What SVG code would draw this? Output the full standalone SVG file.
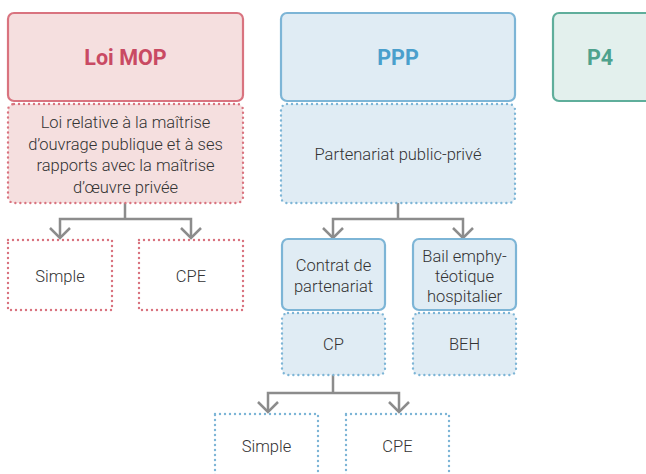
<svg xmlns="http://www.w3.org/2000/svg" width="646" height="474" viewBox="0 0 646 474">
<style>
text{font-family:Roboto,"Liberation Sans",sans-serif;font-weight:300;fill:#333;font-size:16.5px;text-anchor:middle}
.t{font-weight:bold;font-size:21.5px}
.pinkS{fill:#f5dfdf;stroke:#d9737f;stroke-width:2.2}
.pinkD{fill:#f5dfdf;stroke:#d9737f;stroke-width:2.4;stroke-dasharray:0 5;stroke-linecap:round}
.pinkO{fill:none;stroke:#d9737f;stroke-width:2.4;stroke-dasharray:0 5;stroke-linecap:round}
.blueS{fill:#e0ecf4;stroke:#7db5d6;stroke-width:2.2}
.blueD{fill:#e0ecf4;stroke:#7db5d6;stroke-width:2.4;stroke-dasharray:0 5;stroke-linecap:round}
.blueO{fill:none;stroke:#7db5d6;stroke-width:2.4;stroke-dasharray:0 5;stroke-linecap:round}
.greenS{fill:#e3f0ed;stroke:#5fae9b;stroke-width:2.2}
.c{fill:none;stroke:#8c8c8c;stroke-width:2.5}
</style>
<g id="connectors">
<path class="c" d="M125 203V219M60 238V219H191V238"/>
<path class="c" d="M50 228L60 238L70 228M181 228L191 238L201 228"/>
<path class="c" d="M398 203V219M333 238V219H463V238"/>
<path class="c" d="M323 228L333 238L343 228M453 228L463 238L473 228"/>
<path class="c" d="M333 375V393M268 412V393H399V412"/>
<path class="c" d="M258 402L268 412L278 402M389 402L399 412L409 402"/>
</g>
<g id="loimop">
<rect class="pinkS" x="8" y="13" width="235" height="88" rx="6"/>
<text class="t" x="125.5" y="65" style="fill:#c94a63">Loi MOP</text>
</g>
<g id="loimop-desc">
<rect class="pinkD" x="8" y="104" width="235" height="99" rx="6"/>
<text x="125.5" y="128">Loi relative à la maîtrise</text>
<text x="125.5" y="149.5">d’ouvrage publique et à ses</text>
<text x="125.5" y="171">rapports avec la maîtrise</text>
<text x="125.5" y="192.5">d’œuvre privée</text>
</g>
<g id="mop-simple">
<rect class="pinkO" x="8" y="240" width="104" height="70"/>
<text x="60" y="282">Simple</text>
</g>
<g id="mop-cpe">
<rect class="pinkO" x="139" y="240" width="104" height="70"/>
<text x="191" y="282">CPE</text>
</g>
<g id="ppp">
<rect class="blueS" x="281" y="13" width="234" height="88" rx="6"/>
<text class="t" x="398" y="65" style="fill:#4a9fcc">PPP</text>
</g>
<g id="ppp-desc">
<rect class="blueD" x="281" y="104" width="234" height="99" rx="6"/>
<text x="398" y="160">Partenariat public-privé</text>
</g>
<g id="p4">
<rect class="greenS" x="553" y="13" width="110" height="88" rx="6"/>
<text class="t" x="600" y="65" style="fill:#4fa28d">P4</text>
</g>
<g id="contrat">
<rect class="blueS" x="282" y="239" width="103" height="71" rx="6"/>
<text x="333.5" y="271">Contrat de</text>
<text x="333.5" y="292">partenariat</text>
</g>
<g id="cp">
<rect class="blueD" x="282" y="313" width="103" height="62" rx="6"/>
<text x="333.5" y="350">CP</text>
</g>
<g id="bail">
<rect class="blueS" x="413" y="239" width="103" height="71" rx="6"/>
<text x="464.5" y="262">Bail emphy-</text>
<text x="464.5" y="282">téotique</text>
<text x="464.5" y="302">hospitalier</text>
</g>
<g id="beh">
<rect class="blueD" x="413" y="313" width="103" height="62" rx="6"/>
<text x="464.5" y="350">BEH</text>
</g>
<g id="cp-simple">
<rect class="blueO" x="215" y="414" width="103" height="70"/>
<text x="266.5" y="452">Simple</text>
</g>
<g id="cp-cpe">
<rect class="blueO" x="346" y="414" width="103" height="70"/>
<text x="397.5" y="452">CPE</text>
</g>
</svg>
